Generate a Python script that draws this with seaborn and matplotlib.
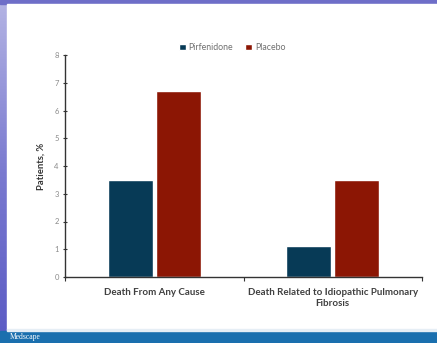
import numpy as np
import pandas as pd
import matplotlib
matplotlib.use("Agg")
import matplotlib.pyplot as plt
import seaborn as sns
from matplotlib.patches import Rectangle

categories = ["Death From Any Cause", "Death Related to Idiopathic Pulmonary\nFibrosis"]
groups = ["Pirfenidone", "Placebo"]
pirfenidone = [3.5, 1.1]
placebo = [6.7, 3.5]
yticks = [0, 1, 2, 3, 4, 5, 6, 7, 8]

palette = {"Pirfenidone": "#073a56", "Placebo": "#8c1604"}

df = pd.DataFrame({
    "Outcome": categories * 2,
    "Group": [groups[0]] * 2 + [groups[1]] * 2,
    "Patients": pirfenidone + placebo,
})

sns.set_theme(style="white")
plt.rcParams["font.family"] = ["Lato", "DejaVu Sans"]

fig = plt.figure(figsize=(4.37, 3.43), dpi=100)
fig.patch.set_facecolor("#7272cc")

# slide frame: blue gradient edge, white panel, footer bar
grad = np.linspace(0, 1, 256).reshape(-1, 1)
bg = fig.add_axes([0, 0, 1, 1], zorder=-10)
bg.imshow(grad, aspect="auto", cmap=matplotlib.colors.LinearSegmentedColormap.from_list(
    "edge", ["#5a5ac4", "#7a7ad0", "#b4b4e4"]), extent=[0, 1, 0, 1], origin="lower")
bg.add_patch(Rectangle((0, 1 - 4 / 343), 1, 4 / 343, color="#6e6ec8", zorder=2))
bg.add_patch(Rectangle((7 / 437, 13 / 343), 1, (343 - 4 - 13) / 343, color="white", zorder=2))
bg.add_patch(Rectangle((0, 0), 1, 12.5 / 343, color="#1a6fae", zorder=3))
bg.add_patch(Rectangle((7 / 437, 12.5 / 343), 1, 1.5 / 343, color="#e6eef5", zorder=3))
bg.set_xlim(0, 1)
bg.set_ylim(0, 1)
bg.axis("off")
bg.text(10 / 437, 6 / 343, "Medscape", color="white", fontsize=5.5,
        family="Liberation Serif", va="center", ha="left", zorder=4)

ax = fig.add_axes([65 / 437, 66 / 343, (422 - 65) / 437, (277 - 55) / 343])
ax.set_facecolor("white")
sns.barplot(data=df, x="Outcome", y="Patients", hue="Group", order=categories,
            hue_order=groups, palette=palette, width=0.535, gap=0.06,
            saturation=1, ax=ax, legend=True)

ax.set_ylim(0, 8)
ax.set_xlim(-0.5, 1.5)
ax.set_yticks(yticks)
ax.set_yticklabels([str(v) for v in yticks], fontsize=5.5, color="#8a8a8a")
ax.set_xticks([0, 1])
ax.set_xticklabels(categories, fontsize=7, color="#404040", fontweight="bold")
ax.set_xticks([-0.5, 0.5, 1.5], minor=True)
ax.tick_params(axis="x", which="major", length=0, pad=8)
ax.tick_params(axis="x", which="minor", direction="out", length=3, width=0.8, color="#333333", bottom=True)
ax.tick_params(axis="y", direction="inout", length=3, width=0.8, color="#333333", pad=3, left=True)
ax.set_xlabel("")
ax.set_ylabel("Patients, %", fontsize=6.8, color="#333333", fontweight="bold", labelpad=6)

for side in ["top", "right"]:
    ax.spines[side].set_visible(False)
for side in ["left", "bottom"]:
    ax.spines[side].set_color("#333333")
    ax.spines[side].set_linewidth(1.0)

ax.legend(loc="center", bbox_to_anchor=(0.468, 1.033), ncol=2, frameon=False,
          fontsize=6.3, handlelength=0.8, handleheight=0.8, handletextpad=0.3,
          columnspacing=1.4, labelcolor="#707070", borderpad=0)

fig.savefig("out.png", dpi=100)
